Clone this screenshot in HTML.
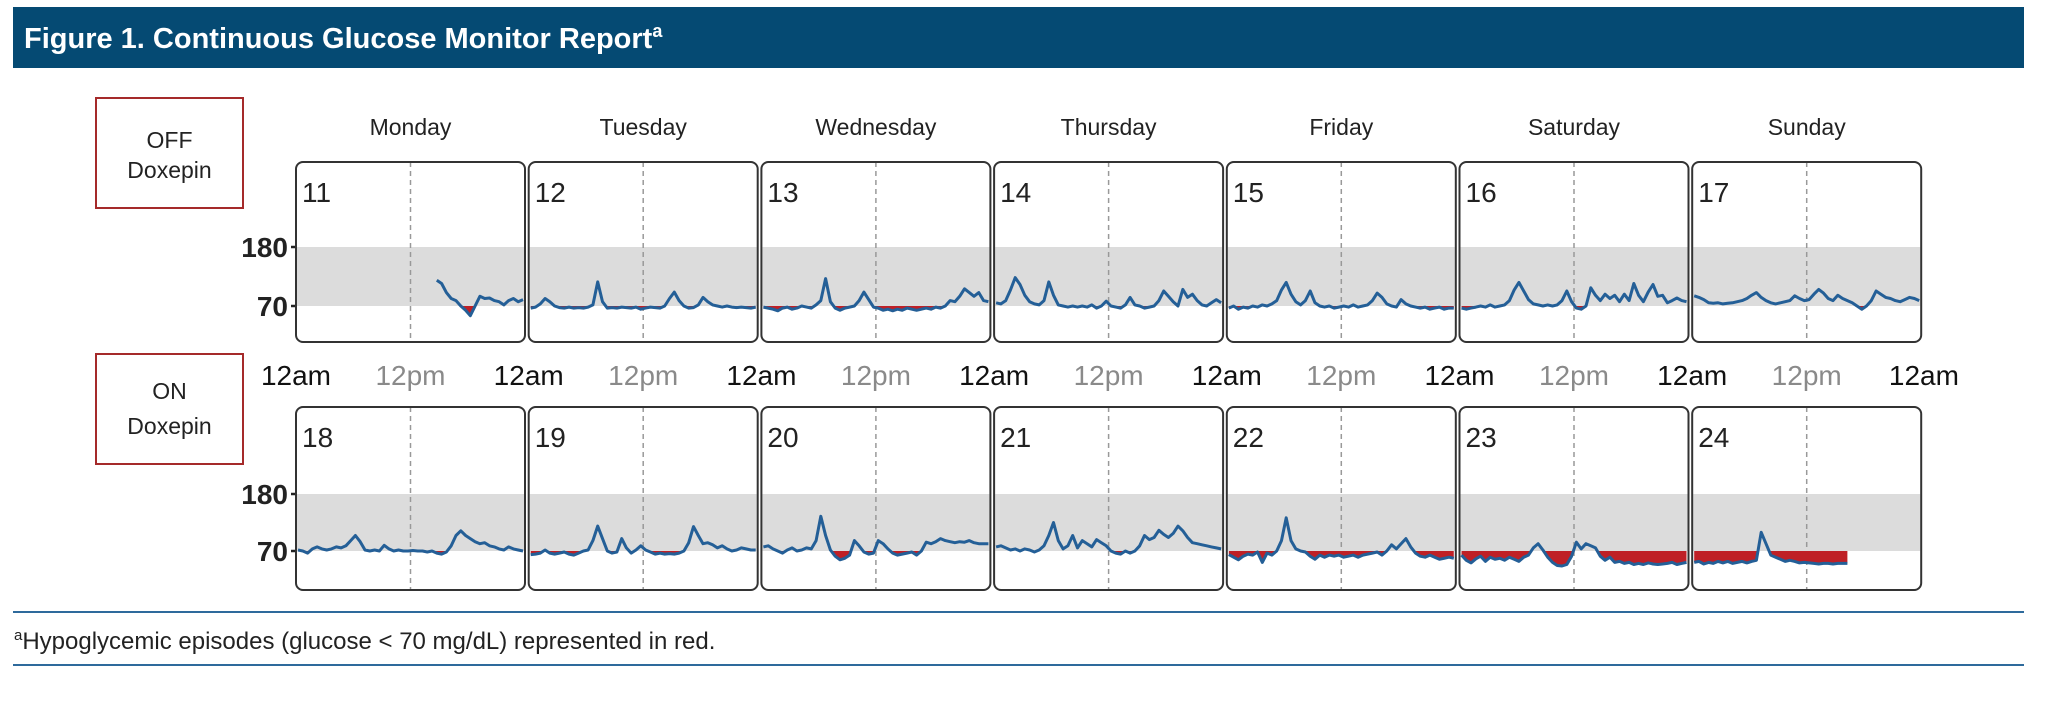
<!DOCTYPE html>
<html><head><meta charset="utf-8"><style>
body{margin:0;background:#fff;width:2048px;height:703px;overflow:hidden}
svg{display:block}
</style></head><body>
<svg id="chart" width="2048" height="703" viewBox="0 0 2048 703" xmlns="http://www.w3.org/2000/svg">
<rect x="13" y="7" width="2011" height="61" fill="#054a73"/>
<text x="24" y="48" fill="#fff" font-family="Liberation Sans, sans-serif" font-weight="bold" font-size="29">Figure 1. Continuous Glucose Monitor Report<tspan font-size="18" dy="-11">a</tspan></text>
<g>
<rect x="96" y="98" width="147" height="110" fill="#fff" stroke="#a52a2a" stroke-width="2"/>
<text x="169.5" y="148" text-anchor="middle" font-family="Liberation Sans, sans-serif" font-size="23" fill="#222">OFF</text>
<text x="169.5" y="178" text-anchor="middle" font-family="Liberation Sans, sans-serif" font-size="23" fill="#222">Doxepin</text>
</g>
<g>
<rect x="96" y="354" width="147" height="110" fill="#fff" stroke="#a52a2a" stroke-width="2"/>
<text x="169.5" y="399" text-anchor="middle" font-family="Liberation Sans, sans-serif" font-size="23" fill="#222">ON</text>
<text x="169.5" y="434" text-anchor="middle" font-family="Liberation Sans, sans-serif" font-size="23" fill="#222">Doxepin</text>
</g>
<line x1="13" y1="612" x2="2024" y2="612" stroke="#2e6a9c" stroke-width="2"/>
<line x1="13" y1="665" x2="2024" y2="665" stroke="#2e6a9c" stroke-width="2"/>
<text x="14" y="649" font-family="Liberation Sans, sans-serif" font-size="24" fill="#222"><tspan font-size="15" dy="-9">a</tspan><tspan dy="9">Hypoglycemic episodes (glucose &lt; 70 mg/dL) represented in red.</tspan></text>
<g id="plots"></g>
</svg>
<script>
const dayNames = ["Monday","Tuesday","Wednesday","Thursday","Friday","Saturday","Sunday"];
const offDates = [11,12,13,14,15,16,17];
const onDates = [18,19,20,21,22,23,24];
const yTicks = [180,70];
const xTickLabels = ["12am","12pm"];
const N = null;
const off11 = [N,N,N,N,N,N,N,N,N,N,N,N,N,N,N,N,N,N,N,N,N,N,N,N,N,N,N,N,N,118,112,95,84,80,70,62,52,70,88,84,85,80,78,72,80,84,78,82];
const off12 = [66,68,74,84,78,70,67,66,68,66,67,66,68,72,115,78,66,67,66,68,67,66,68,64,66,68,67,66,70,84,96,80,70,66,67,72,86,78,72,70,68,70,68,67,68,67,66,68];
const off13 = [68,66,64,61,66,68,64,66,70,68,66,72,80,121,78,66,62,66,68,70,80,96,82,68,66,62,64,61,64,62,66,64,62,64,66,64,68,66,70,80,78,88,102,95,88,95,80,78];
const off14 = [76,74,80,100,123,110,90,78,74,72,80,115,90,72,70,68,70,68,70,68,72,66,70,79,70,68,66,72,86,72,70,66,68,70,80,98,88,78,70,101,86,92,80,72,70,76,82,76];
const off15 = [66,70,64,68,66,70,68,72,70,74,80,100,114,92,78,72,80,98,76,70,68,70,66,68,70,68,72,68,70,72,80,94,86,74,70,68,82,74,70,68,66,68,64,66,68,64,66,66];
const off16 = [66,64,66,68,70,68,72,68,70,72,80,100,114,98,82,74,72,70,72,70,72,80,98,78,66,64,70,104,90,80,92,84,90,78,92,80,112,90,78,96,110,88,90,76,80,85,80,78];
const off17 = [89,86,82,76,75,76,74,75,76,78,80,84,90,95,86,80,76,74,76,78,80,89,84,80,82,92,101,94,84,80,90,84,80,76,70,64,70,80,98,92,86,84,80,78,82,86,84,80];
const on18 = [72,70,66,74,78,74,72,74,78,76,80,90,100,88,72,70,72,70,81,74,70,72,70,70,71,70,70,68,70,66,64,68,80,100,109,100,94,88,84,86,80,78,74,72,78,74,72,70];
const on19 = [63,64,66,72,66,64,66,68,64,62,66,70,72,90,118,94,70,66,68,94,76,66,72,80,72,68,64,66,64,65,64,66,70,86,117,100,84,86,82,76,80,74,70,72,76,74,72,72];
const on20 = [78,80,74,70,66,72,76,70,72,76,74,90,137,100,72,60,53,56,62,90,80,68,64,66,90,84,74,66,62,64,66,68,62,70,87,84,88,94,90,88,86,88,87,90,86,84,84,84];
const on21 = [78,80,76,72,74,70,74,72,68,72,80,100,125,90,74,80,100,76,90,84,78,92,86,80,70,66,64,70,66,70,80,100,92,96,110,102,96,104,118,109,96,86,84,82,80,78,76,74];
const on22 = [63,58,53,60,64,62,68,48,66,62,70,90,134,90,74,70,68,60,54,62,58,62,60,62,58,60,62,58,62,64,66,68,62,70,82,74,84,94,78,66,60,58,62,58,54,56,58,56];
const on23 = [62,52,47,55,60,50,58,54,56,52,58,54,50,58,62,76,84,72,58,48,42,41,44,60,87,74,84,80,76,60,52,58,48,50,46,48,44,46,44,47,45,44,45,46,48,44,46,48];
const on24 = [48,50,45,48,46,50,47,50,46,48,50,47,50,52,106,84,62,58,54,50,52,50,47,48,47,46,45,46,46,45,46,46,46,N,N,N,N,N,N,N,N,N,N,N,N,N,N,N];
const offRow = [off11,off12,off13,off14,off15,off16,off17];
const onRow = [on18,on19,on20,on21,on22,on23,on24];

const NS = "http://www.w3.org/2000/svg";
const g = document.getElementById('plots');
const PX0 = 296, PITCH = 232.7, PW = 229;
function mk(tag, attrs, parent){const e=document.createElementNS(NS,tag);for(const k in attrs)e.setAttribute(k,attrs[k]);(parent||g).appendChild(e);return e;}
function rowScale(y70, y180){ return v => y70 - (v-70)*(y70-y180)/110; }
const rows = [
  {data: offRow, dates: offDates, top:162, bot:342, y: rowScale(306,247)},
  {data: onRow, dates: onDates, top:407, bot:590, y: rowScale(551,494)}
];
// day labels
dayNames.forEach((d,i)=>{
  const t = mk('text',{x:PX0+i*PITCH+PW/2, y:135, 'text-anchor':'middle','font-family':'Liberation Sans, sans-serif','font-size':23,fill:'#222'});
  
  
  t.textContent = d;
});
// x axis labels
for(let i=0;i<=7;i++){
  const t = mk('text',{x:PX0+i*PITCH+(i==7?-1:0), y:385, 'text-anchor':'middle','font-family':'Liberation Sans Narrow, Liberation Sans, sans-serif','font-size':28,fill:'#111'});
  
  
  t.textContent = xTickLabels[0];
  if(i<7){
    const p = mk('text',{x:PX0+i*PITCH+PW/2, y:385, 'text-anchor':'middle','font-family':'Liberation Sans Narrow, Liberation Sans, sans-serif','font-size':28,fill:'#8a8a8a'});
    
    
    p.textContent = xTickLabels[1];
  }
}
rows.forEach((r,ri)=>{
  yTicks.forEach(v=>{
    const yy = r.y(v);
    const t = mk('text',{x:288, y:yy+10, 'text-anchor':'end','font-family':'Liberation Sans Narrow, Liberation Sans, sans-serif','font-weight':'bold','font-size':28,fill:'#222'});
    
    
    t.textContent = v;
    const l = mk('line',{x1:291,x2:297,y1:yy,y2:yy,stroke:'#222','stroke-width':2.5});
    
    
  });
  r.data.forEach((arr,di)=>{
    const x0 = PX0+di*PITCH;
    const pg = mk('g',{});
    
    
    const cid = 'c'+ri+'_'+di;
    const cp = mk('clipPath',{id:cid},pg);
    mk('rect',{x:x0,y:r.y(70),width:PW,height:r.bot-r.y(70)},cp);
    const band = mk('rect',{x:x0+1,y:r.y(180),width:PW-2,height:r.y(70)-r.y(180),fill:'#dcdcdc'},pg);
    
    
    const dash = mk('line',{x1:x0+PW/2,x2:x0+PW/2,y1:r.top,y2:r.bot,stroke:'#999','stroke-width':1.5,'stroke-dasharray':'5 4'},pg);
    
    
    const n = arr.length;
    const xs = i => x0 + 2 + i*(PW-4)/(n-1);
    let segs=[], cur=[];
    arr.forEach((v,i)=>{ if(v===null){ if(cur.length)segs.push(cur); cur=[]; } else cur.push([xs(i), r.y(v)]); });
    if(cur.length) segs.push(cur);
    segs.forEach(s=>{
      const y70 = r.y(70);
      const area = 'M'+s[0][0]+','+y70+' '+s.map(p=>'L'+p[0].toFixed(1)+','+p[1].toFixed(1)).join(' ')+' L'+s[s.length-1][0]+','+y70+'Z';
      const a = mk('path',{d:area,fill:'#bf2026','clip-path':'url(#'+cid+')'},pg);
      
      
      const ln = mk('path',{d:'M'+s.map(p=>p[0].toFixed(1)+','+p[1].toFixed(1)).join(' L'),fill:'none',stroke:'#245f97','stroke-width':3,'stroke-linejoin':'round'},pg);
      
      
    });
    const fr = mk('rect',{x:x0,y:r.top,width:PW,height:r.bot-r.top,rx:7,fill:'none',stroke:'#333','stroke-width':2},pg);
    
    
    const dt = mk('text',{x:x0+6,y:r.top+40,'font-family':'Liberation Sans Narrow, Liberation Sans, sans-serif','font-size':28,fill:'#222'},pg);
    
    
    dt.textContent = r.dates[di];
  });
});
</script>
</body></html>
